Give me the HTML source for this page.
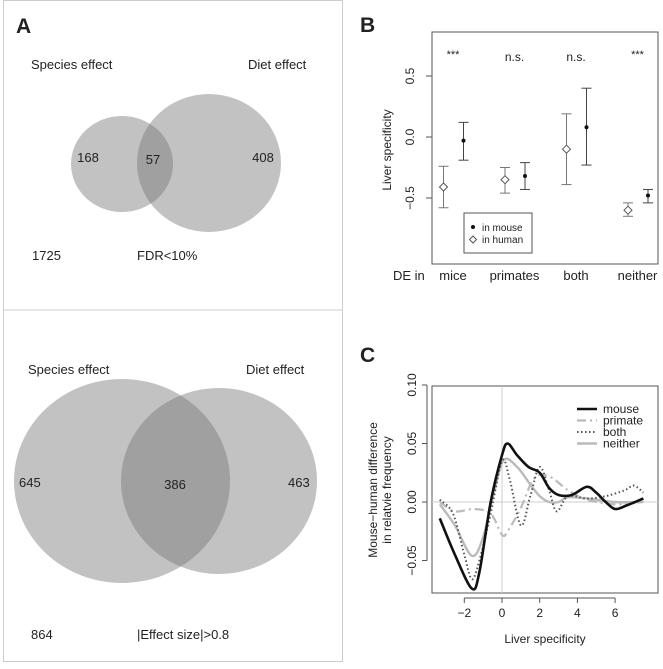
<!DOCTYPE html>
<html><head><meta charset="utf-8"><style>
body{margin:0;background:#fff;}
svg text{font-family:"Liberation Sans",sans-serif;fill:#222;}
</style></head><body>
<svg width="663" height="664" viewBox="0 0 663 664" xmlns="http://www.w3.org/2000/svg">
<!-- Panel A -->
<g>
<rect x="3.5" y="0.5" width="339" height="661" fill="none" stroke="#ccc"/>
<line x1="3.5" y1="310" x2="342.5" y2="310" stroke="#ccc"/>
<text x="16" y="33" font-size="21" font-weight="bold">A</text>
<g>
<ellipse cx="122" cy="164" rx="51" ry="48" fill="#777" fill-opacity="0.45"/>
<ellipse cx="209" cy="163" rx="72" ry="69" fill="#777" fill-opacity="0.45"/>
<text x="31" y="69" font-size="13">Species effect</text>
<text x="248" y="69" font-size="13">Diet effect</text>
<text x="88" y="162" font-size="13" text-anchor="middle">168</text>
<text x="153" y="164" font-size="13" text-anchor="middle">57</text>
<text x="263" y="162" font-size="13" text-anchor="middle">408</text>
<text x="32" y="260" font-size="13">1725</text>
<text x="137" y="260" font-size="13">FDR&lt;10%</text>
</g>
<g>
<ellipse cx="122" cy="481" rx="108" ry="102" fill="#777" fill-opacity="0.45"/>
<ellipse cx="219" cy="481" rx="98" ry="93" fill="#777" fill-opacity="0.45"/>
<text x="28" y="374" font-size="13">Species effect</text>
<text x="246" y="374" font-size="13">Diet effect</text>
<text x="19" y="487" font-size="13">645</text>
<text x="175" y="489" font-size="13" text-anchor="middle">386</text>
<text x="288" y="487" font-size="13">463</text>
<text x="31" y="639" font-size="13">864</text>
<text x="137" y="639" font-size="13">|Effect size|&gt;0.8</text>
</g>
</g>
<!-- Panel B -->
<g id="panelB">
<text x="360" y="32" font-size="21" font-weight="bold">B</text>
<rect x="432" y="32" width="226" height="232" fill="none" stroke="#555"/>
<text transform="translate(391,150) rotate(-90)" font-size="12" text-anchor="middle">Liver specificity</text>
<text x="393" y="280" font-size="13">DE in</text>
<rect x="464" y="213" width="68" height="40" fill="#fff" stroke="#555"/>
<circle cx="473" cy="227" r="2" fill="#111"/>
<text x="482" y="231" font-size="10">in mouse</text>
<path d="M473 236 l3.5 3.5 l-3.5 3.5 l-3.5 -3.5 z" fill="#fff" stroke="#555"/>
<text x="482" y="243" font-size="10">in human</text>
</g>
<!-- Panel C -->
<g id="panelC">
<text x="360" y="362" font-size="21" font-weight="bold">C</text>
<text transform="translate(377,490) rotate(-90)" font-size="12" text-anchor="middle">Mouse−human difference</text>
<text transform="translate(391,490) rotate(-90)" font-size="12" text-anchor="middle">in relatvie frequency</text>
<text x="545" y="643" font-size="12" text-anchor="middle">Liver specificity</text>
</g>
</svg>
<script>
const NS='http://www.w3.org/2000/svg';
function mk(tag,attrs,parent,txt){const e=document.createElementNS(NS,tag);for(const k in attrs)e.setAttribute(k,attrs[k]);if(txt!==undefined)e.textContent=txt;parent.appendChild(e);return e;}
// ---- Panel B data
const bCategories=['mice','primates','both','neither'];
const bSig=['***','n.s.','n.s.','***'];
const bHumanMean=[-0.41,-0.35,-0.10,-0.60];
const bHumanLo=[-0.58,-0.46,-0.39,-0.65];
const bHumanHi=[-0.24,-0.25,0.19,-0.54];
const bMouseMean=[-0.03,-0.32,0.08,-0.48];
const bMouseLo=[-0.19,-0.43,-0.23,-0.54];
const bMouseHi=[0.12,-0.21,0.40,-0.43];
const bTicks=[-0.5,0.0,0.5];
const bTickLabels=['−0.5','0.0','0.5'];
// ---- Panel C data
const cXTicks=[-2,0,2,4,6];
const cYTicks=[-0.05,0,0.05,0.10];
const cYTickLabels=['−0.05','0.00','0.05','0.10'];
const cSeriesNames=['mouse','primate','both','neither'];
const mouseX=[-3.3,-2.5,-1.6,-1.2,-0.6,0,0.3,0.8,1.4,2,2.5,3,3.7,4.5,5,5.5,6,6.6,7.5];
const mouseY=[-0.014,-0.045,-0.074,-0.06,0,0.04,0.05,0.04,0.03,0.025,0.012,0.006,0.006,0.013,0.008,0,-0.006,-0.003,0.003];
const primateX=[-3.3,-2.5,-1.5,-0.6,0,0.3,1,1.7,2.5,3.5,4.5,6,7.5];
const primateY=[0,-0.008,-0.006,-0.01,-0.028,-0.025,-0.005,0.02,0.022,0.01,0.002,-0.002,0];
const bothX=[-3.3,-2.6,-2,-1.6,-1.2,-0.6,0,0.4,1,1.5,2,2.5,2.9,3.5,4.5,5.5,6.5,7,7.5];
const bothY=[0.002,-0.01,-0.045,-0.066,-0.05,-0.01,0.035,0.02,-0.02,0.005,0.03,0.01,-0.008,0.005,0.003,0.005,0.01,0.014,0.008];
const neitherX=[-3.3,-2.5,-1.6,-1,-0.4,0.1,0.8,1.5,2,2.5,3,3.5,4.5,6,7.5];
const neitherY=[-0.002,-0.02,-0.046,-0.03,0.01,0.036,0.03,0.015,0.005,0,0,0.004,0.003,0,0];

// Panel B axes
const B=document.getElementById('panelB');
const bCatX=i=>453+i*61.5;
const bY=v=>137-122*v;
bTicks.forEach((t,i)=>{
  const tk=mk('line',{x1:432,x2:426,y1:bY(t),y2:bY(t),stroke:'#555'},B);
  
  
  const lb=mk('text',{transform:`translate(414,${bY(t)}) rotate(-90)`,'font-size':12,'text-anchor':'middle'},B,bTickLabels[i]);
  
  
});
bCategories.forEach((c,i)=>{
  const cx=bCatX(i);
  const lb=mk('text',{x:cx,y:280,'font-size':13,'text-anchor':'middle'},B,c);
  
  
  const sg=mk('text',{x:cx,y:i%3===0?58:61,'font-size':i%3===0?11:12,'text-anchor':'middle'},B,bSig[i]);
  
  
  const hx=cx-9.5, mx=cx+10.5;
  [[hx,bHumanLo[i],bHumanHi[i],'#777','human-errorbar'],[mx,bMouseLo[i],bMouseHi[i],'#444','mouse-errorbar']].forEach(a=>{
    const g=mk('g',{stroke:a[3],'stroke-width':1},B);
    
    
    mk('line',{x1:a[0],x2:a[0],y1:bY(a[1]),y2:bY(a[2])},g);
    mk('line',{x1:a[0]-5,x2:a[0]+5,y1:bY(a[1]),y2:bY(a[1])},g);
    mk('line',{x1:a[0]-5,x2:a[0]+5,y1:bY(a[2]),y2:bY(a[2])},g);
  });
  const hy=bY(bHumanMean[i]);
  const d=mk('path',{d:`M${hx} ${hy-4} l4 4 l-4 4 l-4 -4 z`,fill:'#fff',stroke:'#555'},B);
  
  
  const p=mk('circle',{cx:mx,cy:bY(bMouseMean[i]),r:2,fill:'#111'},B);
  
  
});

// Panel C
const C=document.getElementById('panelC');
const cX=v=>502+18.85*v;
const cY=v=>502-1170*v;
const box=mk('rect',{x:432,y:386,width:226,height:207,fill:'none',stroke:'#555'},C);


mk('line',{x1:cX(0),x2:cX(0),y1:386,y2:593,stroke:'#ccc'},C);
mk('line',{x1:432,x2:658,y1:cY(0),y2:cY(0),stroke:'#ccc'},C);
mk('line',{x1:427,x2:427,y1:cY(-0.05),y2:cY(0.10),stroke:'#555'},C);
mk('line',{x1:cX(-2),x2:cX(6),y1:598,y2:598,stroke:'#555'},C);
cYTicks.forEach((t,i)=>{
  mk('line',{x1:427,x2:422,y1:cY(t),y2:cY(t),stroke:'#555'},C);
  const lb=mk('text',{transform:`translate(416,${cY(t)}) rotate(-90)`,'font-size':12,'text-anchor':'middle'},C,cYTickLabels[i]);
  
  
});
cXTicks.forEach(t=>{
  mk('line',{x1:cX(t),x2:cX(t),y1:598,y2:603,stroke:'#555'},C);
  const lb=mk('text',{x:cX(t),y:617,'font-size':12,'text-anchor':'middle'},C,t<0?'−'+(-t):String(t));
  
  
});
function smooth(xs,ys){
  const P=xs.map((x,i)=>[cX(x),cY(ys[i])]);
  let d=`M${P[0][0]},${P[0][1]}`;
  for(let i=0;i<P.length-1;i++){
    const p0=P[Math.max(0,i-1)],p1=P[i],p2=P[i+1],p3=P[Math.min(P.length-1,i+2)];
    d+=` C${p1[0]+(p2[0]-p0[0])/6},${p1[1]+(p2[1]-p0[1])/6} ${p2[0]-(p3[0]-p1[0])/6},${p2[1]-(p3[1]-p1[1])/6} ${p2[0]},${p2[1]}`;
  }
  return d;
}
const styles=[
 {c:'#111',w:2.6,da:''},
 {c:'#bbb',w:2.2,da:'9 4 2 4'},
 {c:'#555',w:2,da:'1.5 2.5'},
 {c:'#bbb',w:2.4,da:''}];
const series=[[neitherX,neitherY,3],[primateX,primateY,1],[bothX,bothY,2],[mouseX,mouseY,0]];
series.forEach(s=>{
  const st=styles[s[2]];
  const path=mk('path',{d:smooth(s[0],s[1]),fill:'none',stroke:st.c,'stroke-width':st.w,'stroke-dasharray':st.da},C);
  
  
});
cSeriesNames.forEach((n,i)=>{
  const st=styles[i];const y=409+11.5*i;
  const l=mk('line',{x1:577,x2:597,y1:y,y2:y,stroke:st.c,'stroke-width':st.w,'stroke-dasharray':st.da},C);
  
  
  const t=mk('text',{x:603,y:y+4,'font-size':12},C,n);
  
  
});
</script>
</body></html>
